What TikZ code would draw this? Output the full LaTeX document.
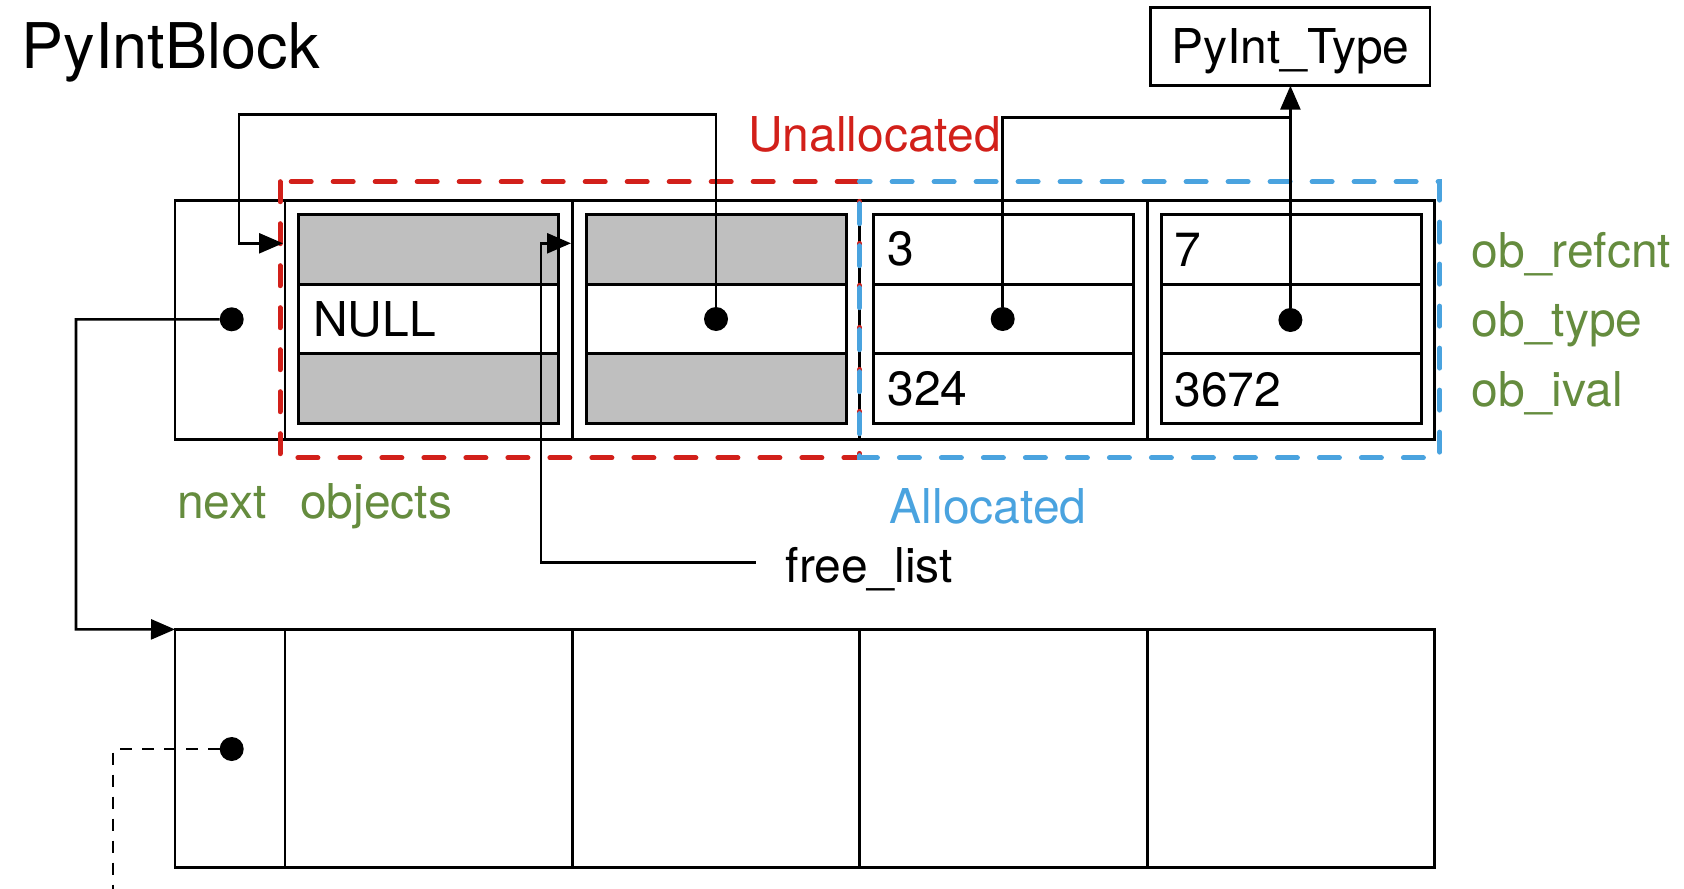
\documentclass[tikz,border=0pt]{standalone}
\usepackage{fontspec}
\setmainfont{TeX Gyre Heros}
\usetikzlibrary{arrows.meta}
\definecolor{allocred}{RGB}{210,32,26}
\definecolor{allocblue}{RGB}{74,163,223}
\definecolor{fieldgreen}{RGB}{101,140,62}
\definecolor{freegray}{RGB}{191,191,191}

\begin{document}
\begin{tikzpicture}[x=0.5pt, y=-0.5pt,
  every node/.style={inner sep=0pt, outer sep=0pt},
  lbl/.style={font=\fontsize{24pt}{28pt}\selectfont, anchor=base west},
  blk/.style={draw, line width=1.45pt, minimum height=119.1pt},
  sect/.style={blk, minimum width=143.7pt},
  nextsect/.style={blk, minimum width=55pt},
  fieldrow/.style={draw, line width=1.45pt, minimum width=130pt, minimum height=34.75pt},
  freerow/.style={fieldrow, fill=freegray},
  ptrdot/.style={circle, fill=black, minimum size=12pt},
  link/.style={line width=1.3pt},
  arr/.style={link, -{Triangle[length=12pt, width=10pt]}},
  region/.style={line width=2.5pt, dash pattern=on 10pt off 11pt, line cap=round},
]
\useasboundingbox (0,0) rectangle (1684,888);

% title
\node[lbl, font=\fontsize{31.5pt}{36pt}\selectfont] (title) at (21.7,68.3) {PyIntBlock};

% the two blocks: next field plus four object slots
\node[nextsect] (n1) at (230,320) {};
\node[nextsect] (n2) at (230,748.5) {};
\foreach \i/\cx in {1/428.7,2/716.1,3/1003.5,4/1290.9} {
  \node[sect] (s\i) at (\cx,320) {};
  \node[sect] (t\i) at (\cx,748.5) {};
}

% objects of the first block: three fields each
\node[freerow]  (c1a) at (428.9,249.3) {};
\node[fieldrow] (c1b) at (428.9,318.8) {};
\node[freerow]  (c1c) at (428.9,388.3) {};
\node[freerow]  (c2a) at (716.3,249.3) {};
\node[fieldrow] (c2b) at (716.3,318.8) {};
\node[freerow]  (c2c) at (716.3,388.3) {};
\node[fieldrow] (c3a) at (1003.7,249.3) {};
\node[fieldrow] (c3b) at (1003.7,318.8) {};
\node[fieldrow] (c3c) at (1003.7,388.3) {};
\node[fieldrow] (c4a) at (1291.1,249.3) {};
\node[fieldrow] (c4b) at (1291.1,318.8) {};
\node[fieldrow] (c4c) at (1291.1,388.3) {};

% field values
\node[lbl] (null) at (313.3,336.7) {NULL};
\node[lbl] (rc3) at (887.3,265.7) {3};
\node[lbl] (iv3) at (887.3,405.5) {324};
\node[lbl] (rc4) at (1174.5,266.5) {7};
\node[lbl] (iv4) at (1174.5,406.5) {3672};

% type object
\node[draw, line width=1.45pt, minimum width=139.6pt, minimum height=39.2pt,
      font=\fontsize{24pt}{28pt}\selectfont, text height=17.2pt, text depth=0pt]
      (ptype) at (1290.4,46.5) {PyInt\_Type};

% unallocated / allocated regions
\draw[region, allocred] (280,181.7) rectangle (859.5,457.8);
\draw[region, allocblue, dash phase=10pt] (859.5,181.7) rectangle (1439.7,457.8);

% region and field labels
\node[lbl, text=allocred] (unalloc) at (748.3,151) {Unallocated};
\node[lbl, text=allocblue] (alloc) at (889.7,523) {Allocated};
\node[lbl, text=fieldgreen] (nextlbl) at (177,518.3) {next};
\node[lbl, text=fieldgreen] (objlbl) at (300,518.3) {objects};
\node[lbl, text=fieldgreen] (f1) at (1471.6,267) {ob\_refcnt};
\node[lbl, text=fieldgreen] (f2) at (1471.6,336.7) {ob\_type};
\node[lbl, text=fieldgreen] (f3) at (1471.6,406) {ob\_ival};
\node[lbl] (fl) at (785.7,582.7) {free\_list};

% pointers
\node[ptrdot] (dn1) at (231.7,319.3) {};
\node[ptrdot] (d2) at (716,319) {};
\node[ptrdot] (d3) at (1002.7,319) {};
\node[ptrdot] (d4) at (1290.4,320) {};
\node[ptrdot] (dn2) at (231.7,749) {};

% free chain: slot 2 -> slot 1
\coordinate (c2turn) at (239,114.3);
\coordinate (c1in) at (283,243.3);
\draw[arr] (d2) |- (c2turn) |- (c1in);

% free_list -> slot 2
\coordinate (flstart) at (755.7,562.7);
\coordinate (flturn) at (540.8,562.7);
\coordinate (c2in) at (571,243.3);
\draw[arr] (flstart) -- (flturn) |- (c2in);

% ob_type pointers
\coordinate (tjoin) at (1290.4,117.7);
\draw[arr] (d4) -- (ptype.south);
\draw[link] (d3) |- (tjoin);

% next pointers
\coordinate (nturn) at (76,629.3);
\draw[arr] (dn1) -| (nturn) -- (n2.north west);
\coordinate (nbottom) at (113.3,900);
\draw[line width=1.1pt, dash pattern=on 6pt off 5pt] (dn2) -| (nbottom);
\end{tikzpicture}
\end{document}
